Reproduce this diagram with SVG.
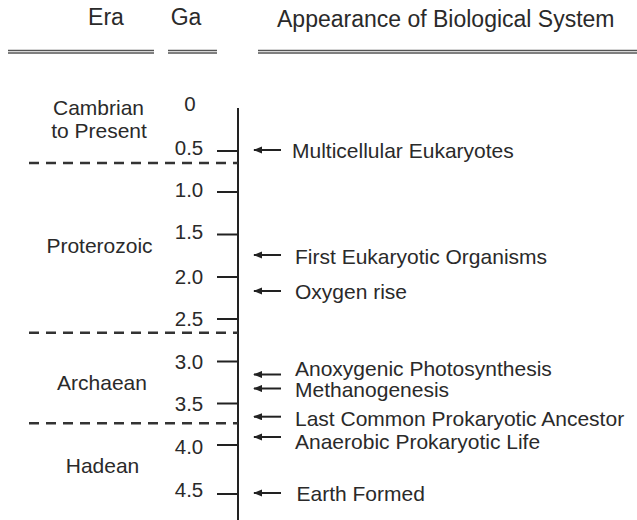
<svg xmlns="http://www.w3.org/2000/svg" width="637" height="520" viewBox="0 0 637 520">
<defs>
<style>
text{font-family:"Liberation Sans",Arial,sans-serif;fill:#2a2a2a}
.h{font-size:23px}
.l{font-size:21px}
.g{font-size:20.5px;text-anchor:middle}
.e{font-size:21px;text-anchor:middle}
.ln{stroke:#222;stroke-width:2;fill:none}
.dl{stroke:#333;stroke-width:2.5;stroke-dasharray:10 7;fill:none}
.hl{stroke:#555;stroke-width:1.3;fill:none}
.ar{stroke:#222;stroke-width:2;fill:none;marker-start:url(#ah)}
</style>
<marker id="ah" viewBox="0 0 10 8" refX="1" refY="4" markerWidth="4.5" markerHeight="3.6" orient="auto" markerUnits="strokeWidth">
<path d="M10,0 L0,4 L10,8 Z" fill="#222"/>
</marker>
</defs>
<rect width="637" height="520" fill="#fff"/>
<g id="header">
<text class="h" x="106" y="25" text-anchor="middle">Era</text>
<text class="h" x="186" y="25" text-anchor="middle">Ga</text>
<text class="h" x="277" y="26.5">Appearance of Biological System</text>
<path class="hl" d="M8,50.5H154M8,53H154M168,50.5H217M168,53H217M258,50.5H637M258,53H637"/>
</g>
<g id="axis">
<path class="ln" d="M238,108V520"/>
<path class="ln" d="M217,151H238M217,192H238M217,234.5H238M217,277H238M217,319H238M217,361.5H238M217,403.5H238M217,445H238M217,494H238"/>
<text class="g" x="190" y="111">0</text>
<text class="g" x="189" y="155">0.5</text>
<text class="g" x="189" y="197">1.0</text>
<text class="g" x="189" y="239">1.5</text>
<text class="g" x="189" y="284">2.0</text>
<text class="g" x="189" y="326">2.5</text>
<text class="g" x="189" y="369">3.0</text>
<text class="g" x="189" y="411">3.5</text>
<text class="g" x="189" y="454">4.0</text>
<text class="g" x="189" y="497">4.5</text>
</g>
<g id="eras">
<path class="dl" d="M29,163H238M29,332.7H238M29,423.3H238"/>
<text class="e" x="98.5" y="115">Cambrian</text>
<text class="e" x="99" y="138">to Present</text>
<text class="e" x="99.5" y="252.7">Proterozoic</text>
<text class="e" x="102" y="390">Archaean</text>
<text class="e" x="102.5" y="473">Hadean</text>
</g>
<g id="connectors">
<path class="ar" d="M254,150H281"/>
<path class="ar" d="M254,255H281"/>
<path class="ar" d="M254,291H281"/>
<path class="ar" d="M254,374.5H281"/>
<path class="ar" d="M254,388.5H281"/>
<path class="ar" d="M254,416.7H281"/>
<path class="ar" d="M254,437H281"/>
<path class="ar" d="M254,493H281"/>
</g>
<g id="events">
<text class="l" x="292" y="158.3">Multicellular Eukaryotes</text>
<text class="l" x="295" y="264">First Eukaryotic Organisms</text>
<text class="l" x="295" y="299">Oxygen rise</text>
<text class="l" x="295" y="376">Anoxygenic Photosynthesis</text>
<text class="l" x="295" y="397">Methanogenesis</text>
<text class="l" x="295" y="426">Last Common Prokaryotic Ancestor</text>
<text class="l" x="295" y="449">Anaerobic Prokaryotic Life</text>
<text class="l" x="296.5" y="500.7">Earth Formed</text>
</g>
</svg>
